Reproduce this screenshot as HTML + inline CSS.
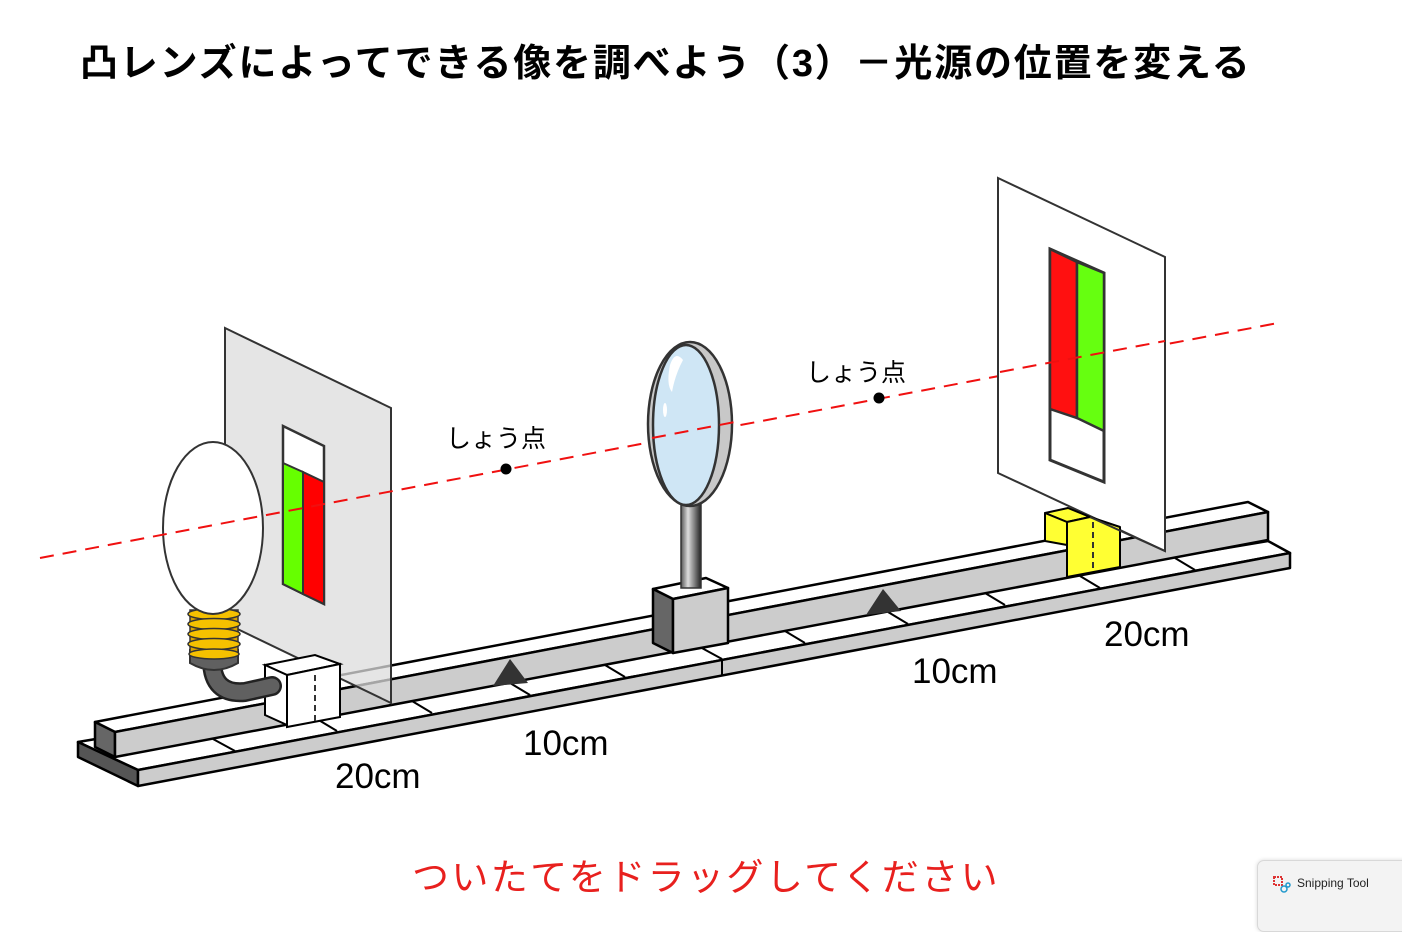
<!DOCTYPE html>
<html><head><meta charset="utf-8"><style>
html,body{margin:0;padding:0;background:#fff;}
body{width:1402px;height:916px;overflow:hidden;position:relative;font-family:"Liberation Sans","Noto Sans CJK JP",sans-serif;}
.title{position:absolute;left:80px;top:32px;font-size:38px;font-weight:bold;color:#000;font-family:"Liberation Sans","Noto Sans CJK JP",sans-serif;letter-spacing:1.8px;white-space:nowrap;}
.drag{position:absolute;left:0;width:1412px;top:847px;text-align:center;font-size:37px;color:#e8201e;letter-spacing:2.4px;font-family:"Liberation Sans","Noto Sans CJK JP",sans-serif;}
.snip{position:absolute;left:1257px;top:860px;width:150px;height:70px;background:#f3f3f3;border:1px solid #d8d8d8;border-radius:7px;box-shadow:0 0 4px rgba(0,0,0,.15);}
.snip span{position:absolute;left:39px;top:15px;font-size:12px;color:#222;}
</style></head><body>
<div class="title">凸レンズによってできる像を調べよう（3）－光源の位置を変える</div>
<svg width="1402" height="916" style="position:absolute;left:0;top:0" xmlns="http://www.w3.org/2000/svg">
<defs>
<linearGradient id="hg" x1="0" x2="1"><stop offset="0" stop-color="#555"/><stop offset=".35" stop-color="#ddd"/><stop offset="1" stop-color="#222"/></linearGradient>
</defs>
<g stroke="#000" stroke-width="2.5" stroke-linejoin="round">
<polygon points="78,742 1268,541 1290,553 138,770" fill="#fff"/>
<polygon points="78,742 138,770 138,786 78,757" fill="#555"/>
<polygon points="138,770 1290,553 1290,568 138,786" fill="#ccc"/>
<polygon points="95,722 1248,502 1268,512 115,732" fill="#fff"/>
<polygon points="95,722 115,732 115,757 95,747" fill="#666"/>
<polygon points="115,732 1268,512 1268,540 115,757" fill="#ccc"/>
</g>
<g stroke="#000" stroke-width="2">
<line x1="213" y1="739" x2="235" y2="751"/>
<line x1="317" y1="719" x2="337" y2="731"/>
<line x1="412" y1="701" x2="432" y2="713"/>
<line x1="510" y1="683" x2="530" y2="695"/>
<line x1="605" y1="665" x2="625" y2="677"/>
<line x1="700" y1="647" x2="722" y2="659"/>
<line x1="722" y1="659" x2="722" y2="675"/>
<line x1="785" y1="631" x2="805" y2="643"/>
<line x1="888" y1="612" x2="908" y2="624"/>
<line x1="985" y1="593" x2="1005" y2="605"/>
<line x1="1080" y1="576" x2="1100" y2="588"/>
<line x1="1175" y1="558" x2="1195" y2="570"/>
</g>
<polygon points="493,686 510,659 528,683" fill="#333"/>
<polygon points="866,615 883,589 901,611" fill="#333"/>
<polygon points="225,328 391,408 391,703 225,623" fill="#dcdcdc" fill-opacity="0.75" stroke="#333" stroke-width="2"/>
<polygon points="283,426 324,446 324,604 283,584" fill="#fff" stroke="#333" stroke-width="2.5"/>
<polygon points="283,463 303,472 303,594 283,584" fill="#66ff00" stroke="#333" stroke-width="2"/>
<polygon points="303,472 324,482 324,604 303,594" fill="#ff0000" stroke="#333" stroke-width="2"/>
<g stroke="#000" stroke-width="2">
<polygon points="265,665 315,655 340,664 287,675" fill="#fff"/>
<polygon points="265,665 287,675 287,725 265,715" fill="#fff"/>
<polygon points="287,675 340,664 340,717 287,727" fill="#fff"/>
</g>
<line x1="315" y1="675" x2="315" y2="722" stroke="#333" stroke-width="2" stroke-dasharray="6,4"/>
<path d="M212,660 Q212,695 245,692 L272,686" fill="none" stroke="#222" stroke-width="20" stroke-linecap="round"/>
<path d="M212,660 Q212,695 245,692 L272,686" fill="none" stroke="#606060" stroke-width="15" stroke-linecap="round"/>
<path d="M190,650 L238,650 L238,663 Q214,677 190,663 Z" fill="#606060" stroke="#333" stroke-width="2"/>
<g fill="#f5c100" stroke="#333" stroke-width="1.5">
<rect x="190" y="610" width="48" height="46" fill="#d9a300"/>
<ellipse cx="214" cy="614" rx="26" ry="5.5"/>
<ellipse cx="214" cy="624" rx="26" ry="5.5"/>
<ellipse cx="214" cy="634" rx="26" ry="5.5"/>
<ellipse cx="214" cy="644" rx="26" ry="5.5"/>
<ellipse cx="214" cy="654" rx="25" ry="5"/>
</g>
<ellipse cx="213" cy="528" rx="50" ry="86" fill="#fff" stroke="#333" stroke-width="2"/>
<line x1="40" y1="558" x2="1278" y2="323" stroke="#f01010" stroke-width="2" stroke-dasharray="14,9"/>
<g stroke="#000" stroke-width="2.5" stroke-linejoin="round">
<polygon points="653,589 706,578 728,588 673,599" fill="#fff"/>
<polygon points="653,589 673,599 673,653 653,643" fill="#666"/>
<polygon points="673,599 728,588 728,643 673,653" fill="#ccc"/>
</g>
<rect x="681" y="500" width="20" height="88" fill="url(#hg)" stroke="#333" stroke-width="1.5"/>
<ellipse cx="690" cy="424" rx="42" ry="82" fill="#c8c8c8" stroke="#333" stroke-width="2.5"/>
<ellipse cx="686" cy="425" rx="33" ry="80" fill="#cfe6f5" stroke="#333" stroke-width="2.5"/>
<path d="M670,365 Q675,350 683,360 Q675,375 672,392 Q666,385 670,365Z" fill="#fff"/>
<ellipse cx="665" cy="410" rx="2" ry="7" fill="#fff"/>
<line x1="652" y1="438" x2="735" y2="422" stroke="#f01010" stroke-width="2" stroke-dasharray="14,9"/>
<polygon points="998,178 1165,257 1165,551 998,473" fill="#fff" stroke="#333" stroke-width="2"/>
<polygon points="1050,249 1104,273 1104,482 1050,460" fill="#fff" stroke="#333" stroke-width="3"/>
<polygon points="1050,249 1077,262 1077,418 1050,409" fill="#ff1010" stroke="#333" stroke-width="2.5"/>
<polygon points="1077,262 1104,273 1104,431 1077,418" fill="#66ff10" stroke="#333" stroke-width="2.5"/>
<line x1="1000" y1="372" x2="1165" y2="341" stroke="#f01010" stroke-width="2" stroke-dasharray="14,9"/>
<g stroke="#000" stroke-width="2" stroke-linejoin="round">
<polygon points="1045,513 1068,508 1090,517 1067,522" fill="#ffff33"/>
<polygon points="1045,513 1067,522 1067,545 1045,541" fill="#ffff33"/>
<polygon points="1067,522 1090,517 1120,527 1120,567 1067,577" fill="#ffff33"/>
</g>
<line x1="1093" y1="522" x2="1093" y2="572" stroke="#333" stroke-width="2" stroke-dasharray="6,4"/>
<line x1="1090" y1="517" x2="1165" y2="551" stroke="#333" stroke-width="2"/>
<circle cx="506" cy="469" r="5.5" fill="#000"/>
<circle cx="879" cy="398" r="5.5" fill="#000"/>
<g font-family="Liberation Sans, Noto Sans CJK JP, sans-serif" fill="#000">
<text x="446" y="447" font-size="25">しょう点</text>
<text x="806" y="381" font-size="25">しょう点</text>
<text x="335" y="788" font-size="35">20cm</text>
<text x="523" y="755" font-size="35">10cm</text>
<text x="912" y="683" font-size="35">10cm</text>
<text x="1104" y="646" font-size="35">20cm</text>
</g>
</svg>
<div class="drag">ついたてをドラッグしてください</div>
<div class="snip"><svg width="20" height="20" style="position:absolute;left:14px;top:14px"><rect x="2" y="2" width="8" height="8" fill="none" stroke="#d33" stroke-width="2" stroke-dasharray="2,1"/><circle cx="12" cy="14" r="3" fill="none" stroke="#29c" stroke-width="1.5"/><circle cx="16" cy="10" r="2" fill="none" stroke="#29c" stroke-width="1.5"/></svg><span>Snipping Tool</span></div>
</body></html>
